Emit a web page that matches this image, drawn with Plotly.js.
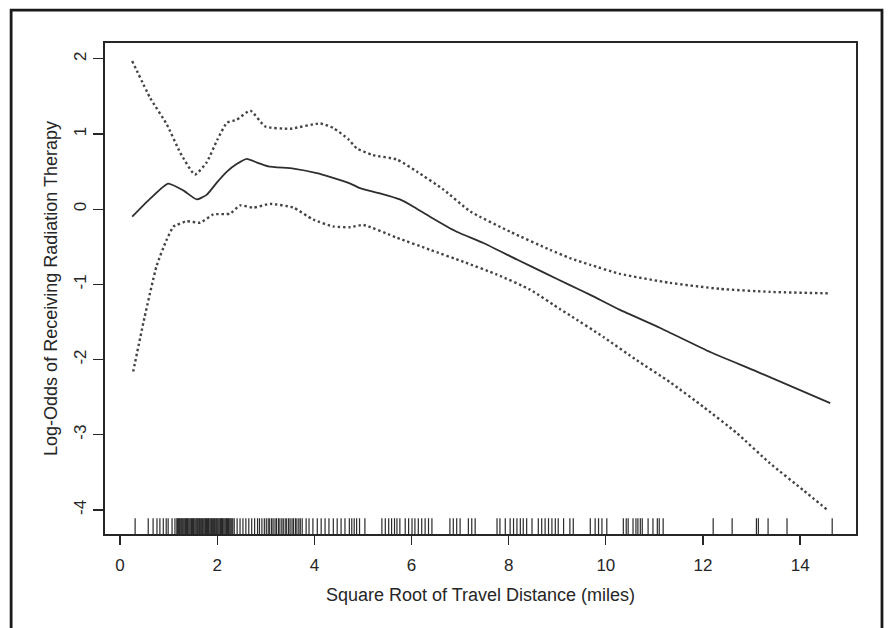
<!DOCTYPE html>
<html>
<head>
<meta charset="utf-8">
<script src="https://cdn.plot.ly/plotly-3.0.1.min.js"></script>
<style>
  html, body { margin: 0; padding: 0; background: #fff; }
  #chart { width: 893px; height: 628px; }
</style>
</head>
<body>
<div id="chart"></div>
<script>
// Smoothed fit: square root of travel distance vs. log-odds of radiation therapy
const fitX = [0.25, 0.62, 0.99, 1.30, 1.58, 1.78, 2.00, 2.20, 2.40, 2.61, 2.82, 3.05, 3.57, 4.05, 4.32, 4.74, 4.94, 5.35, 5.76, 6.05, 6.38, 6.93, 7.48, 8.17, 8.78, 9.26, 9.68, 10.29, 11.12, 12.15, 13.11, 14.62];
const fitY = [-0.10, 0.14, 0.34, 0.25, 0.13, 0.19, 0.36, 0.50, 0.60, 0.67, 0.62, 0.57, 0.54, 0.48, 0.43, 0.34, 0.28, 0.21, 0.13, 0.03, -0.10, -0.30, -0.45, -0.67, -0.86, -1.01, -1.14, -1.34, -1.58, -1.90, -2.16, -2.58];

// Upper pointwise band
const upperX = [0.25, 0.62, 0.96, 1.24, 1.54, 1.78, 2.00, 2.20, 2.40, 2.68, 2.99, 3.50, 4.12, 4.39, 4.70, 4.87, 5.20, 5.70, 6.11, 6.66, 7.21, 8.03, 8.85, 9.26, 9.68, 10.29, 11.32, 12.35, 13.38, 14.62];
const upperY = [1.97, 1.48, 1.13, 0.75, 0.46, 0.62, 0.92, 1.15, 1.19, 1.31, 1.10, 1.07, 1.14, 1.08, 0.93, 0.81, 0.72, 0.66, 0.50, 0.26, -0.03, -0.30, -0.54, -0.65, -0.74, -0.86, -0.98, -1.06, -1.10, -1.12];

// Lower pointwise band
const lowerX = [0.27, 0.50, 0.75, 0.95, 1.10, 1.17, 1.37, 1.65, 1.92, 2.26, 2.47, 2.74, 3.09, 3.57, 3.98, 4.39, 4.74, 5.01, 5.70, 6.38, 7.07, 7.76, 8.44, 9.06, 9.26, 9.95, 10.64, 11.32, 12.01, 12.70, 13.38, 14.07, 14.58];
const lowerY = [-2.16, -1.45, -0.76, -0.42, -0.23, -0.21, -0.16, -0.18, -0.07, -0.06, 0.05, 0.02, 0.07, 0.02, -0.14, -0.23, -0.24, -0.21, -0.38, -0.54, -0.70, -0.87, -1.07, -1.33, -1.41, -1.70, -2.01, -2.30, -2.63, -2.98, -3.38, -3.74, -4.01];

// Observed distances shown as a rug along the x axis
const rugX = [
  0.31, 0.58, 0.68, 0.76, 0.82, 0.89, 0.95, 0.99, 1.07, 1.13,
  1.17, 1.18, 1.20, 1.22, 1.23, 1.25, 1.27, 1.28, 1.30, 1.32, 1.34, 1.35, 1.37, 1.39, 1.40,
  1.42, 1.44, 1.46, 1.47, 1.49, 1.51, 1.52, 1.54, 1.56, 1.58, 1.59, 1.61, 1.63, 1.64, 1.66,
  1.68, 1.70, 1.71, 1.73, 1.75, 1.76, 1.78, 1.80, 1.82, 1.83, 1.85, 1.87, 1.88, 1.90, 1.92,
  1.94, 1.95, 1.97, 1.99, 2.00, 2.02, 2.04, 2.06, 2.07, 2.09, 2.11, 2.12, 2.14, 2.16, 2.18,
  2.19, 2.21, 2.23, 2.24, 2.26, 2.28, 2.30, 2.32,
  2.35, 2.41, 2.47, 2.53, 2.59, 2.65, 2.71, 2.77, 2.83, 2.87, 2.92, 2.97, 3.01, 3.05, 3.08,
  3.12, 3.15, 3.19, 3.22, 3.26, 3.29, 3.33, 3.36, 3.40, 3.43, 3.47, 3.50, 3.54, 3.57, 3.61,
  3.64, 3.68, 3.71, 3.75,
  3.83, 3.89, 3.97, 4.06, 4.14, 4.22, 4.30, 4.39, 4.47, 4.55, 4.63, 4.72, 4.77, 4.82, 4.87, 4.93, 5.04,
  5.39, 5.46, 5.53, 5.59, 5.65, 5.70, 5.76, 5.87, 5.94, 6.01, 6.07, 6.14, 6.21, 6.28, 6.35, 6.42,
  6.79, 6.86, 6.93, 7.00, 7.17, 7.24, 7.31,
  7.76, 7.82, 7.93, 8.03, 8.10, 8.17, 8.24, 8.30, 8.37, 8.48, 8.61, 8.68, 8.75, 8.82, 8.89,
  8.96, 9.02, 9.13, 9.26, 9.33, 9.68, 9.78, 9.85, 9.92, 10.02,
  10.36, 10.42, 10.46, 10.56, 10.62, 10.66, 10.71, 10.75, 10.87, 10.97, 11.06, 11.10, 11.18,
  12.21, 12.60, 13.10, 13.14, 13.34, 13.73, 14.66
];

const xTicks = [0, 2, 4, 6, 8, 10, 12, 14];
const yTicks = [-4, -3, -2, -1, 0, 1, 2];
const xRange = [-0.31, 15.15];
const yRange = [-4.32, 2.21];
const rugTop = -4.11;

// Each rug mark is a short vertical segment from the bottom of the plot
const rugLineX = [];
const rugLineY = [];
rugX.forEach(function (v) {
  rugLineX.push(v, v, null);
  rugLineY.push(yRange[0], rugTop, null);
});

const FONT = 'Arial, "Liberation Sans", Helvetica, sans-serif';
const INK = '#262626';

const traces = [
  {
    x: rugLineX, y: rugLineY, type: 'scatter', mode: 'lines',
    line: { color: '#2a2a2a', width: 1.2 }, hoverinfo: 'skip', connectgaps: false
  },
  {
    x: upperX, y: upperY, type: 'scatter', mode: 'lines',
    line: { color: '#444', width: 2.4, dash: '2.4px,2.8px', shape: 'spline', smoothing: 0.5 }
  },
  {
    x: lowerX, y: lowerY, type: 'scatter', mode: 'lines',
    line: { color: '#444', width: 2.4, dash: '2.4px,2.8px', shape: 'spline', smoothing: 0.5 }
  },
  {
    x: fitX, y: fitY, type: 'scatter', mode: 'lines',
    line: { color: '#2e2e2e', width: 1.8, shape: 'spline', smoothing: 0.5 }
  }
];

const layout = {
  width: 893, height: 628,
  margin: { l: 105, r: 37, t: 43, b: 94 },
  paper_bgcolor: '#fff', plot_bgcolor: '#fff',
  showlegend: false,
  font: { family: FONT, color: INK },
  xaxis: {
    range: xRange, tickvals: xTicks, ticktext: xTicks.map(String),
    showgrid: false, zeroline: false,
    showline: true, mirror: true, linecolor: INK, linewidth: 1.6,
    ticks: 'outside', ticklen: 9, tickwidth: 1.3, tickcolor: INK,
    ticklabelstandoff: 6,
    tickfont: { family: FONT, size: 17, color: INK },
    title: { text: 'Square Root of Travel Distance (miles)', font: { family: FONT, size: 18, color: INK }, standoff: 14 }
  },
  yaxis: {
    range: yRange, tickvals: yTicks, ticktext: yTicks.map(String),
    showgrid: false, zeroline: false,
    showline: true, mirror: true, linecolor: INK, linewidth: 1.6,
    ticks: 'outside', ticklen: 10, tickwidth: 1.3, tickcolor: INK,
    ticklabelstandoff: 1,
    tickangle: -90,
    tickfont: { family: FONT, size: 17, color: INK },
    title: { text: 'Log-Odds of Receiving Radiation Therapy', font: { family: FONT, size: 18, color: INK }, standoff: 8 }
  },
  shapes: [
    // Outer frame around the figure
    {
      type: 'rect', xref: 'paper', yref: 'paper',
      x0: -0.125, x1: 1.0346, y0: -0.25, y1: 1.067,
      line: { color: '#1a1a1a', width: 2.8 }
    }
  ]
};

Plotly.newPlot('chart', traces, layout, { staticPlot: true, displayModeBar: false });
</script>
</body>
</html>
